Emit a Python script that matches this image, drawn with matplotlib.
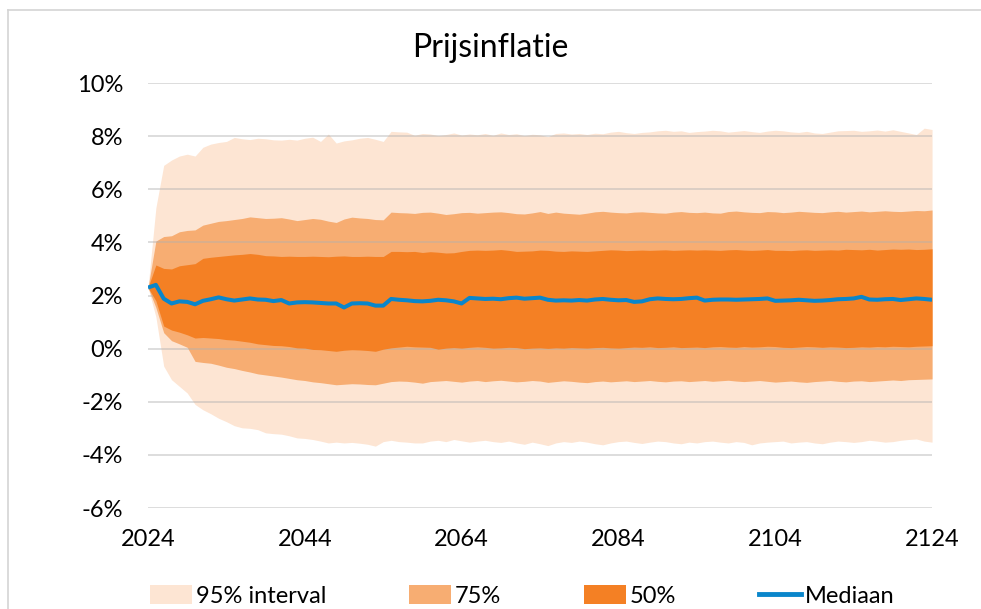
import matplotlib
matplotlib.use("Agg")
import matplotlib.pyplot as plt
from matplotlib.lines import Line2D
from matplotlib.patches import Patch
from matplotlib.ticker import FuncFormatter
import numpy as np

plt.rcParams['font.family'] = ['Lato', 'DejaVu Sans']

years = np.arange(2024, 2125)

mediaan = [
    2.30, 2.40, 1.88, 1.70, 1.78, 1.76, 1.67, 1.80, 1.86, 1.93,
    1.86, 1.81, 1.85, 1.89, 1.85, 1.84, 1.79, 1.83, 1.70, 1.74,
    1.75, 1.74, 1.72, 1.70, 1.70, 1.55, 1.70, 1.71, 1.70, 1.62,
    1.62, 1.87, 1.84, 1.82, 1.79, 1.78, 1.80, 1.84, 1.82, 1.78,
    1.70, 1.91, 1.89, 1.87, 1.88, 1.86, 1.90, 1.92, 1.88, 1.90,
    1.92, 1.84, 1.81, 1.82, 1.81, 1.83, 1.81, 1.85, 1.87, 1.84,
    1.82, 1.83, 1.76, 1.78, 1.86, 1.89, 1.87, 1.86, 1.87, 1.90,
    1.92, 1.81, 1.84, 1.85, 1.85, 1.84, 1.85, 1.86, 1.87, 1.89,
    1.80, 1.81, 1.82, 1.84, 1.82, 1.80, 1.81, 1.83, 1.86, 1.87,
    1.89, 1.95, 1.85, 1.84, 1.86, 1.87, 1.83, 1.86, 1.89, 1.87, 1.84]

boven_50 = [
    2.30, 3.15, 3.02, 3.00, 3.12, 3.16, 3.20, 3.40, 3.44, 3.47,
    3.50, 3.53, 3.55, 3.58, 3.55, 3.50, 3.49, 3.47, 3.48, 3.47,
    3.47, 3.48, 3.47, 3.46, 3.48, 3.49, 3.47, 3.47, 3.48, 3.47,
    3.47, 3.66, 3.66, 3.65, 3.66, 3.62, 3.65, 3.63, 3.60, 3.61,
    3.66, 3.70, 3.71, 3.70, 3.71, 3.73, 3.70, 3.66, 3.67, 3.68,
    3.71, 3.70, 3.67, 3.66, 3.68, 3.67, 3.66, 3.68, 3.70, 3.72,
    3.71, 3.69, 3.70, 3.71, 3.70, 3.71, 3.72, 3.70, 3.71, 3.72,
    3.71, 3.72, 3.71, 3.70, 3.72, 3.73, 3.71, 3.70, 3.71, 3.73,
    3.70, 3.70, 3.69, 3.71, 3.72, 3.70, 3.71, 3.72, 3.71, 3.74,
    3.73, 3.72, 3.74, 3.71, 3.73, 3.75, 3.74, 3.75, 3.73, 3.74, 3.76]

onder_50 = [
    2.30, 1.80, 0.85, 0.70, 0.62, 0.52, 0.40, 0.42, 0.40, 0.38,
    0.34, 0.32, 0.28, 0.24, 0.18, 0.15, 0.12, 0.11, 0.08, 0.03,
    0.02, -0.03, -0.04, -0.07, -0.10, -0.06, -0.04, -0.05, -0.07, -0.10,
    -0.02, 0.03, 0.06, 0.09, 0.07, 0.06, 0.05, -0.02, 0.02, 0.04,
    0.02, 0.05, 0.07, 0.05, 0.02, 0.03, 0.05, 0.04, 0.00, 0.02,
    0.03, 0.01, 0.03, 0.02, 0.04, 0.03, 0.02, 0.04, 0.05, 0.03,
    0.02, 0.04, 0.06, 0.05, 0.07, 0.04, 0.05, 0.07, 0.04, 0.05,
    0.06, 0.04, 0.07, 0.08, 0.06, 0.05, 0.08, 0.06, 0.07, 0.09,
    0.08, 0.05, 0.04, 0.06, 0.08, 0.07, 0.05, 0.07, 0.06, 0.04,
    0.05, 0.07, 0.06, 0.08, 0.07, 0.09, 0.08, 0.07, 0.09, 0.10, 0.11]

boven_75 = [
    2.30, 4.05, 4.22, 4.25, 4.40, 4.45, 4.47, 4.65, 4.72, 4.79,
    4.82, 4.86, 4.90, 4.96, 4.93, 4.90, 4.91, 4.93, 4.88, 4.82,
    4.86, 4.90, 4.87, 4.80, 4.75, 4.88, 4.95, 4.92, 4.90, 4.86,
    4.85, 5.14, 5.12, 5.11, 5.09, 5.13, 5.14, 5.10, 5.05, 5.08,
    5.12, 5.13, 5.10, 5.12, 5.14, 5.15, 5.12, 5.08, 5.07, 5.11,
    5.16, 5.09, 5.14, 5.10, 5.08, 5.06, 5.10, 5.15, 5.17, 5.14,
    5.12, 5.11, 5.14, 5.15, 5.13, 5.11, 5.10, 5.14, 5.16, 5.13,
    5.12, 5.14, 5.11, 5.10, 5.16, 5.18, 5.15, 5.13, 5.12, 5.16,
    5.15, 5.12, 5.14, 5.17, 5.15, 5.13, 5.12, 5.15, 5.17, 5.14,
    5.16, 5.18, 5.15, 5.17, 5.19, 5.17, 5.16, 5.18, 5.20, 5.19, 5.22]

onder_75 = [
    2.30, 1.55, 0.60, 0.30, 0.18, 0.05, -0.48, -0.52, -0.55, -0.62,
    -0.70, -0.75, -0.82, -0.88, -0.95, -0.99, -1.03, -1.07, -1.12, -1.17,
    -1.20, -1.25, -1.28, -1.32, -1.36, -1.34, -1.32, -1.33, -1.35, -1.36,
    -1.30, -1.24, -1.22, -1.23, -1.26, -1.30, -1.24, -1.22, -1.20, -1.23,
    -1.26, -1.22, -1.20, -1.24, -1.21, -1.19, -1.22, -1.25, -1.23, -1.20,
    -1.22, -1.27, -1.24, -1.21, -1.23, -1.26, -1.28, -1.24, -1.22, -1.25,
    -1.23, -1.21, -1.24, -1.22, -1.20, -1.23, -1.25, -1.22, -1.21, -1.24,
    -1.22, -1.20, -1.23, -1.21, -1.19, -1.22, -1.24, -1.22, -1.20, -1.23,
    -1.26, -1.24, -1.22, -1.25, -1.27, -1.24, -1.22, -1.20, -1.23, -1.25,
    -1.22, -1.21, -1.24, -1.22, -1.20, -1.18, -1.20, -1.17, -1.16, -1.15, -1.14]

boven_95 = [
    2.30, 5.30, 6.90, 7.10, 7.25, 7.32, 7.25, 7.58, 7.70, 7.76,
    7.80, 7.95, 7.90, 7.87, 7.92, 7.90, 7.86, 7.85, 7.88, 7.85,
    7.92, 7.96, 7.80, 8.08, 7.74, 7.82, 7.86, 7.92, 7.95, 7.88,
    7.80, 8.18, 8.16, 8.15, 8.03, 8.10, 8.08, 8.02, 8.06, 8.12,
    8.04, 8.08, 8.05, 8.10, 8.03, 8.12, 8.06, 8.09, 8.02, 8.07,
    8.05, 7.98, 8.10, 8.12, 8.08, 8.10, 8.06, 8.11, 8.09, 8.15,
    8.18, 8.13, 8.10, 8.14, 8.16, 8.20, 8.22, 8.18, 8.20, 8.14,
    8.17, 8.19, 8.22, 8.20, 8.15, 8.18, 8.21, 8.17, 8.14, 8.19,
    8.22, 8.20, 8.16, 8.14, 8.18, 8.12, 8.10, 8.15, 8.20, 8.21,
    8.22, 8.18, 8.20, 8.23, 8.19, 8.24, 8.18, 8.12, 8.06, 8.30, 8.25]

onder_95 = [
    2.30, 1.20, -0.66, -1.17, -1.42, -1.67, -2.10, -2.30, -2.45, -2.62,
    -2.75, -2.90, -2.98, -3.00, -3.05, -3.17, -3.20, -3.22, -3.28, -3.36,
    -3.38, -3.42, -3.48, -3.55, -3.52, -3.55, -3.53, -3.56, -3.60, -3.67,
    -3.50, -3.45, -3.50, -3.52, -3.55, -3.55, -3.48, -3.45, -3.50, -3.42,
    -3.47, -3.52, -3.48, -3.45, -3.50, -3.53, -3.48, -3.55, -3.60, -3.52,
    -3.58, -3.65, -3.55, -3.50, -3.53, -3.48, -3.52, -3.58, -3.62, -3.55,
    -3.50, -3.48, -3.53, -3.57, -3.52, -3.48, -3.50, -3.55, -3.58, -3.52,
    -3.55, -3.50, -3.48, -3.52, -3.55, -3.50, -3.53, -3.62, -3.55, -3.52,
    -3.50, -3.48, -3.55, -3.52, -3.50, -3.55, -3.58, -3.52, -3.48, -3.50,
    -3.53, -3.50, -3.45, -3.48, -3.52, -3.50, -3.45, -3.42, -3.40, -3.48, -3.52]

c95 = '#fde5d3'
c75 = '#f7ad72'
c50 = '#f48024'
cmed = '#0a86cb'

fig = plt.figure(figsize=(9.81, 6.09), dpi=100)
ax = fig.add_axes([0.1509, 0.1658, 0.7992, 0.6979])

ax.fill_between(years, onder_95, boven_95, color=c95, lw=0, zorder=1)
ax.fill_between(years, onder_75, boven_75, color=c75, lw=0, zorder=2)
ax.fill_between(years, onder_50, boven_50, color=c50, lw=0, zorder=3)
ax.plot(years, mediaan, color=cmed, lw=2.9, zorder=5, solid_capstyle='butt')

ax.set_xlim(2024, 2124)
ax.set_ylim(-6, 10)
ax.set_xticks(np.arange(2024, 2125, 20))
ax.set_yticks(np.arange(-6, 11, 2))
ax.yaxis.set_major_formatter(FuncFormatter(lambda v, p: '%d%%' % v))
ax.tick_params(length=0, labelsize=17, colors='#000000')
ax.tick_params(axis='y', pad=18)
ax.tick_params(axis='x', pad=15)
ax.grid(axis='y', color='#b0b0b0', alpha=0.5, lw=1.2, zorder=4)
ax.set_axisbelow(False)
for s in ax.spines.values():
    s.set_visible(False)

fig.text(0.5, 1 - 57 / 609, 'Prijsinflatie', ha='center', va='baseline', fontsize=23)

# frame lines on the left and top of the figure
fig.add_artist(Line2D([8 / 981, 8 / 981], [0, 1 - 10 / 609], color='#d4d4d4', lw=1.2))
fig.add_artist(Line2D([8 / 981, 1], [1 - 10 / 609, 1 - 10 / 609], color='#d4d4d4', lw=1.2))

handles = [Patch(color=c95, lw=0), Patch(color=c75, lw=0), Patch(color=c50, lw=0),
           Line2D([], [], color=cmed, lw=3.5)]
labels = ['95% interval', '75%', '50%', 'Mediaan']
fig.legend(handles, labels, loc='center', bbox_to_anchor=(522 / 981, 1 - 596 / 609),
           ncol=4, frameon=False, fontsize=17, handlelength=1.8, handleheight=0.85,
           handletextpad=0.15, columnspacing=3.5, borderaxespad=0)

fig.savefig('out.png', dpi=100)
